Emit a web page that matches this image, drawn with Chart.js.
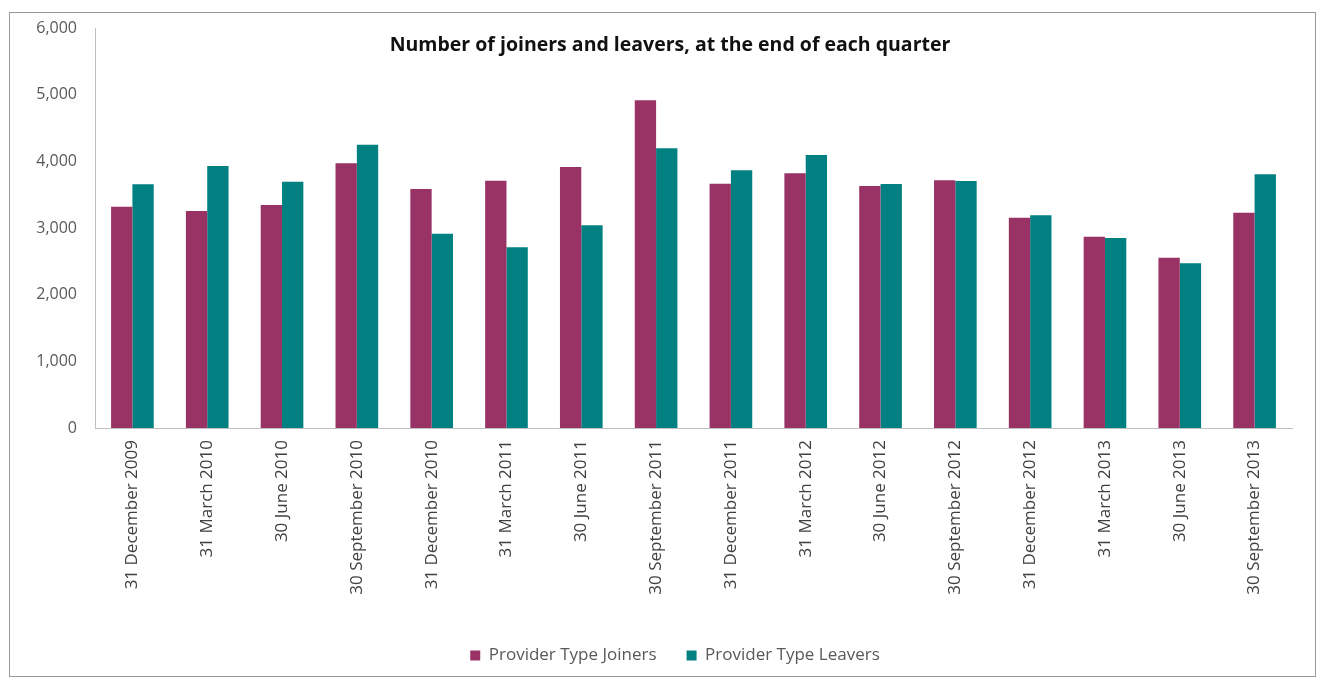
<!DOCTYPE html>
<html>
<head>
<meta charset="utf-8">
<script src="https://cdn.jsdelivr.net/npm/chart.js@4/dist/chart.umd.min.js"></script>
<style>
html,body{margin:0;padding:0;background:#fff;}
canvas{display:block;}
</style>
</head>
<body>
<canvas id="c" width="1319" height="679"></canvas>
<script>
const categories = [
  "31 December 2009","31 March 2010","30 June 2010","30 September 2010",
  "31 December 2010","31 March 2011","30 June 2011","30 September 2011",
  "31 December 2011","31 March 2012","30 June 2012","30 September 2012",
  "31 December 2012","31 March 2013","30 June 2013","30 September 2013"
];
const joiners = [3320,3255,3345,3970,3585,3710,3915,4915,3665,3820,3630,3715,3155,2870,2555,3230];
const leavers = [3655,3930,3695,4250,2915,2710,3040,4195,3865,4095,3660,3705,3190,2850,2470,3805];
const seriesNames = ["Provider Type Joiners","Provider Type Leavers"];
const yTickValues = [0,1000,2000,3000,4000,5000,6000];
const chartTitle = "Number of joiners and leavers, at the end of each quarter";

const FONT = "'Open Sans', Lato, sans-serif";
Chart.defaults.font.family = FONT;

const frameAndTitle = {
  id: 'frameAndTitle',
  afterLayout(chart) {
    // nudge the legend row to sit where the reference has it
    if (chart.legend) { chart.legend.left += 29; chart.legend.right += 29; }
  },
  beforeDraw(chart) {
    const ctx = chart.ctx;
    ctx.save();
    ctx.fillStyle = '#ffffff';
    ctx.fillRect(0, 0, chart.width, chart.height);
    ctx.strokeStyle = '#9a9a9a';
    ctx.lineWidth = 1;
    ctx.strokeRect(9.5, 12.5, 1306, 664);
    ctx.restore();
  },
  afterDraw(chart) {
    const ctx = chart.ctx;
    ctx.save();
    ctx.font = "bold 19.5px " + FONT;
    ctx.fillStyle = '#111111';
    ctx.textAlign = 'center';
    ctx.textBaseline = 'middle';
    ctx.fillText(chartTitle, 670, 45);
    ctx.restore();
  }
};

new Chart(document.getElementById('c'), {
  type: 'bar',
  data: {
    labels: categories,
    datasets: [
      { label: seriesNames[0], data: joiners, backgroundColor: '#993366', borderWidth: 0 },
      { label: seriesNames[1], data: leavers, backgroundColor: '#008080', borderWidth: 0 }
    ]
  },
  options: {
    responsive: false,
    animation: false,
    devicePixelRatio: 1,
    layout: { padding: { left: 0, right: 27, top: 28, bottom: 5 } },
    datasets: { bar: { categoryPercentage: 0.57, barPercentage: 1.0 } },
    plugins: {
      title: { display: false },
      tooltip: { enabled: false },
      legend: {
        position: 'bottom',
        labels: {
          boxWidth: 10, boxHeight: 10, padding: 30,
          color: '#595959',
          font: { size: 17, family: FONT }
        }
      }
    },
    scales: {
      x: {
        grid: { display: false, drawTicks: false },
        border: { display: true, color: '#bfbfbf', width: 1 },
        ticks: {
          autoSkip: false, minRotation: 90, maxRotation: 90, padding: 12,
          color: '#404040', font: { size: 17, family: FONT }
        },
        afterFit(scale) { scale.height = 189; }
      },
      y: {
        min: 0, max: 6000,
        grid: { display: false, drawTicks: false },
        border: { display: true, color: '#bfbfbf', width: 1 },
        afterBuildTicks(scale) { scale.ticks = yTickValues.map(v => ({ value: v })); },
        ticks: {
          padding: 18, color: '#595959', font: { size: 16, family: FONT },
          callback: v => Number(v).toLocaleString('en-US')
        },
        afterFit(scale) { scale.width = 95; }
      }
    }
  },
  plugins: [frameAndTitle]
});
</script>
</body>
</html>
